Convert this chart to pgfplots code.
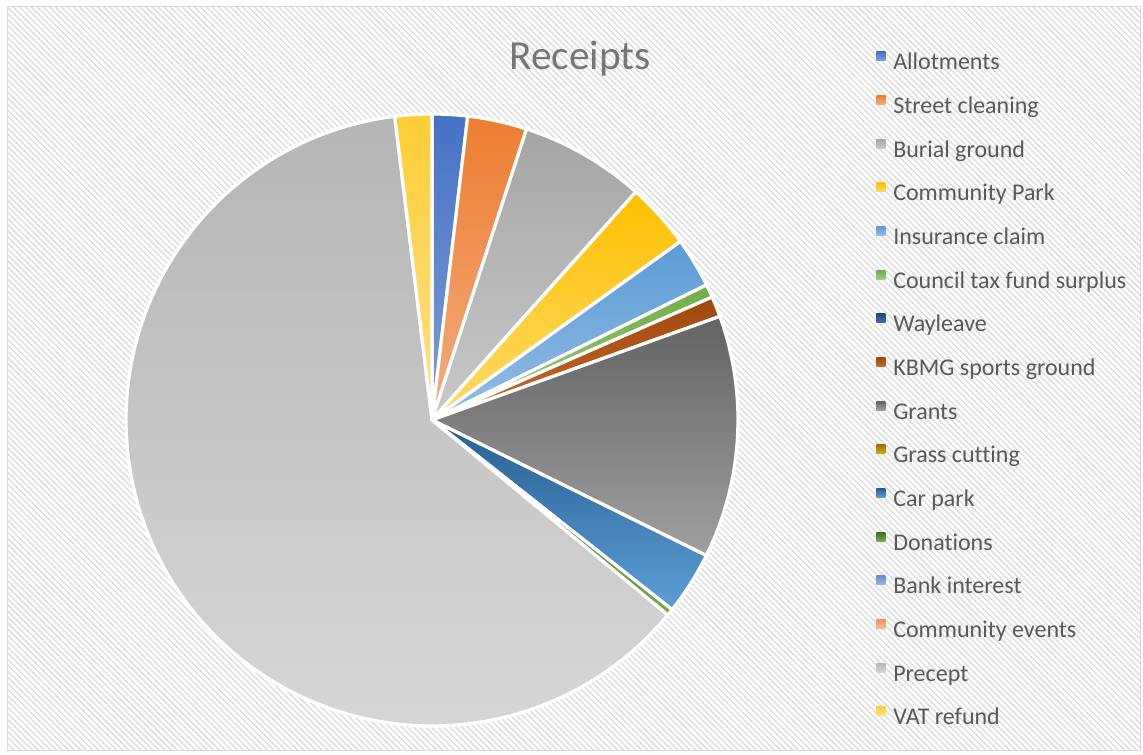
\documentclass[border=0pt]{standalone}
\usepackage{fontspec}
\setmainfont{Carlito}[Ligatures=NoCommon]
\usepackage{pgfplots}
\pgfplotsset{compat=1.18}
\usetikzlibrary{patterns.meta}
\definecolor{txt}{HTML}{595959}
\definecolor{ttl}{HTML}{767676}
\definecolor{cAllot}{HTML}{4472C4}   \definecolor{bAllot}{HTML}{7F9FD8}
\definecolor{cStreet}{HTML}{ED7D31}  \definecolor{bStreet}{HTML}{F4AC7E}
\definecolor{cBurial}{HTML}{A5A5A5}  \definecolor{bBurial}{HTML}{C9C9C9}
\definecolor{cPark}{HTML}{FFC000}    \definecolor{bPark}{HTML}{FFDA6A}
\definecolor{cIns}{HTML}{5B9BD5}     \definecolor{bIns}{HTML}{94BEE6}
\definecolor{cCouncil}{HTML}{70AD47} \definecolor{bCouncil}{HTML}{9CCB82}
\definecolor{cWay}{HTML}{264478}     \definecolor{bWay}{HTML}{4A6FB0}
\definecolor{cKBMG}{HTML}{9E480E}    \definecolor{bKBMG}{HTML}{CC6A2C}
\definecolor{cGrants}{HTML}{636363}  \definecolor{bGrants}{HTML}{A0A0A0}
\definecolor{cGrass}{HTML}{997300}   \definecolor{bGrass}{HTML}{D9A70D}
\definecolor{cCar}{HTML}{255E91}     \definecolor{bCar}{HTML}{5E9FD8}
\definecolor{cDon}{HTML}{43682B}     \definecolor{bDon}{HTML}{72AE4A}
\definecolor{cBank}{HTML}{698ED0}    \definecolor{bBank}{HTML}{9AB4E0}
\definecolor{cEvents}{HTML}{F1975A}  \definecolor{bEvents}{HTML}{F6BC94}
\definecolor{cPrecept}{HTML}{B5B5B5} \definecolor{bPrecept}{HTML}{D6D6D6}
\definecolor{cVAT}{HTML}{FFCD33}     \definecolor{bVAT}{HTML}{FFE08C}
% slice: start angle, end angle (degrees clockwise from 12 o'clock), colour name, samples
\newcommand{\slice}[4]{%
  \addplot[draw=white, line width=2.4pt, line join=round,
    top color=c#3, bottom color=b#3,
    domain=#1:#2, samples=#4, variable=\t]
    ({432+306*sin(t)},{334+306*cos(t)}) -- (432,334) -- cycle;}
\newcommand{\legimg}[1]{\addlegendimage{top color=c#1, bottom color=b#1}}
\begin{document}
\begin{tikzpicture}
\useasboundingbox (0,0) rectangle (857.25pt,565.5pt);
\fill[white] (5.25pt,3pt) rectangle (855pt,560.25pt);
\fill[pattern={Lines[angle=-45,distance=3.2pt,line width=1.1pt]}, pattern color=black!13] (5.25pt,3pt) rectangle (855pt,560.25pt);
\draw[black!15, line width=0.75pt] (5.25pt,3pt) rectangle (855pt,560.25pt);
\begin{axis}[
  scale only axis, width=857.25pt, height=565.5pt,
  xmin=0, xmax=1143, ymin=0, ymax=754,
  hide axis, clip=false,
  legend cell align=left,
  legend image code/.code={\path[#1, draw=none] (0pt,2.35pt) rectangle (6.75pt,9.1pt);},
  legend style={at={(axis cs:876,704.4)}, anchor=north west, draw=none, fill=none,
    inner sep=0pt, row sep=11.75pt, column sep=6pt,
    font=\fontsize{18}{18}\selectfont, text=txt,
    nodes={inner xsep=0pt, inner ysep=2pt, text height=13pt, text depth=4pt}},
]
\slice{0}{6.7}{Allot}{5}
\addlegendentry{Allotments}
\slice{6.7}{18.0}{Street}{8}
\addlegendentry{Street cleaning}
\slice{18.0}{41.8}{Burial}{14}
\addlegendentry{Burial ground}
\slice{41.8}{54.3}{Park}{8}
\addlegendentry{Community Park}
\slice{54.3}{63.8}{Ins}{6}
\addlegendentry{Insurance claim}
\slice{63.8}{66.3}{Council}{3}
\addlegendentry{Council tax fund surplus}
\legimg{Way}
\addlegendentry{Wayleave}
\slice{66.3}{70.2}{KBMG}{3}
\addlegendentry{KBMG sports ground}
\slice{70.2}{116.3}{Grants}{24}
\addlegendentry{Grants}
\legimg{Grass}
\addlegendentry{Grass cutting}
\slice{116.3}{128.3}{Car}{8}
\addlegendentry{Car park}
\slice{128.3}{129.6}{Don}{2}
\addlegendentry{Donations}
\legimg{Bank}
\addlegendentry{Bank interest}
\legimg{Events}
\addlegendentry{Community events}
\slice{129.6}{353.0}{Precept}{100}
\addlegendentry{Precept}
\slice{353.0}{360}{VAT}{5}
\addlegendentry{VAT refund}
\node[anchor=base, text=ttl, font=\fontsize{31}{31}\selectfont] at (axis cs:580,684) {Receipts};
\end{axis}
\end{tikzpicture}
\end{document}
